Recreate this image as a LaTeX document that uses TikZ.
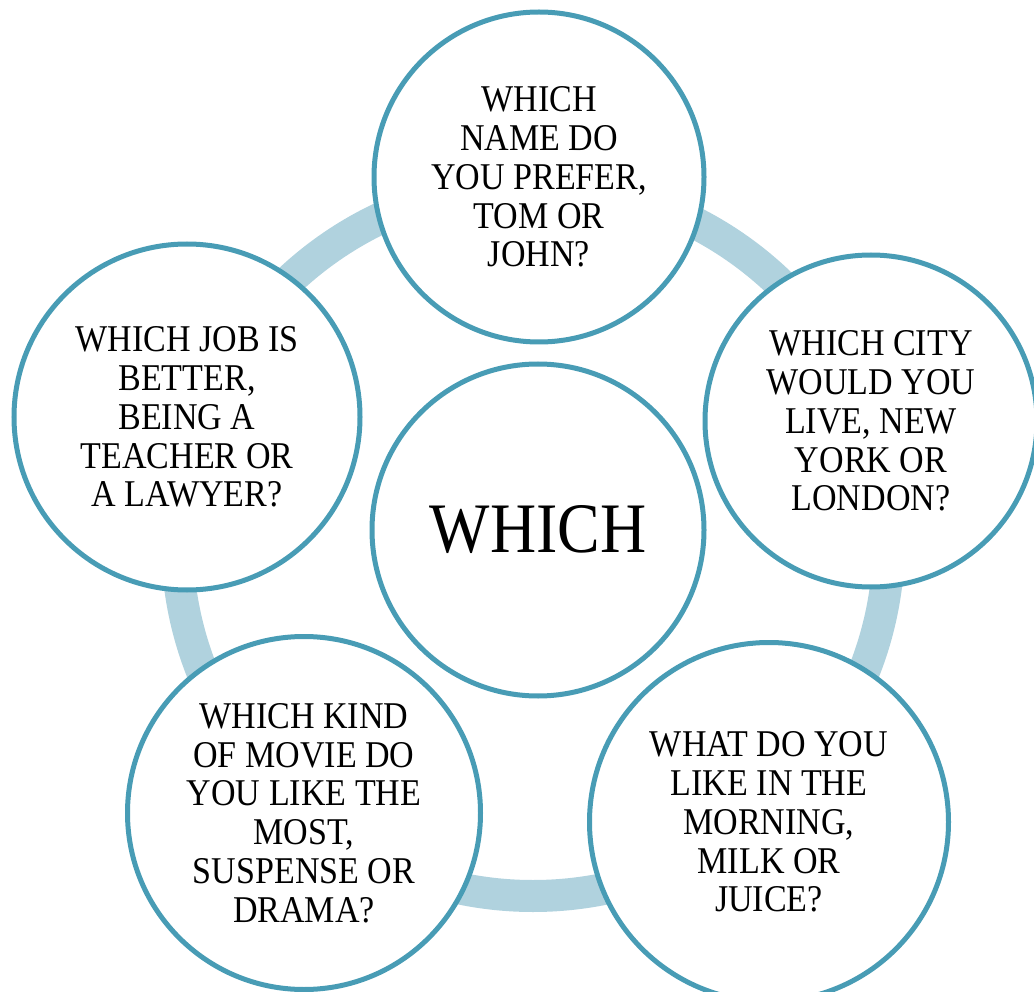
\documentclass[tikz,border=0pt]{standalone}
\usepackage{fontspec}
\setmainfont{Liberation Serif}[FakeStretch=0.9]
\definecolor{rim}{RGB}{72,156,181}
\definecolor{ringc}{RGB}{176,210,222}
\begin{document}
\begin{tikzpicture}[x=1pt,y=-1pt,
  bubble/.style={circle, draw=rim, line width=5pt, fill=white, inner sep=0pt,
    align=center, font=\fontsize{37.8pt}{38.8pt}\selectfont},
  ringline/.style={draw=ringc, line width=32pt}]
\useasboundingbox (0,0) rectangle (1034,992);
\clip (0,0) rectangle (1034,992);
\draw[ringline] (533,540) circle[radius=356pt];
\node[bubble, minimum size=332pt] (hub) at (538,530) {\fontsize{71pt}{71pt}\selectfont WHICH};
\node[bubble, minimum size=330pt] (name) at (539,177) {WHICH\\NAME DO\\YOU PREFER,\\TOM OR\\JOHN?};
\node[bubble, minimum size=332pt] (city) at (871,421) {WHICH CITY\\WOULD YOU\\LIVE, NEW\\YORK OR\\LONDON?};
\node[bubble, minimum size=359pt] (morning) at (769,822) {WHAT DO YOU\\LIKE IN THE\\MORNING,\\MILK OR\\JUICE?};
\node[bubble, minimum size=353pt] (movie) at (304,813) {WHICH KIND\\OF MOVIE DO\\YOU LIKE THE\\MOST,\\SUSPENSE OR\\DRAMA?};
\node[bubble, minimum size=346pt] (job) at (187,417) {WHICH JOB IS\\BETTER,\\BEING A\\TEACHER OR\\A LAWYER?};
\end{tikzpicture}
\end{document}
